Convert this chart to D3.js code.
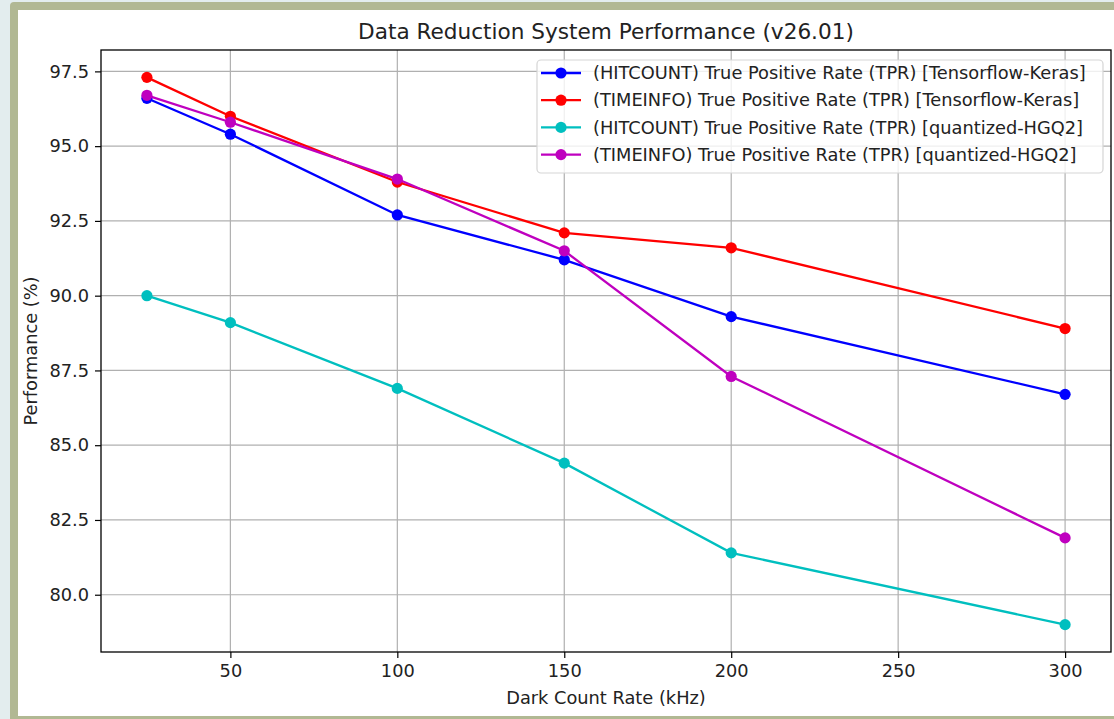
<!DOCTYPE html>
<html>
<head>
<meta charset="utf-8">
<script src="https://cdn.jsdelivr.net/npm/d3@7"></script>
<style>
  html, body { margin: 0; padding: 0; background: #e3edee; }
  svg { display: block; font-family: "DejaVu Sans", sans-serif; }
</style>
</head>
<body>
<svg id="chart" width="1114" height="719"></svg>
<script>
// Dark count rates (kHz) on the x axis
const rates = [25, 50, 100, 150, 200, 300];

// True positive rate (%) per configuration
const hitcountKeras = [96.6, 95.4, 92.7, 91.2, 89.3, 86.7];
const timeinfoKeras = [97.3, 96.0, 93.8, 92.1, 91.6, 88.9];
const hitcountHGQ2  = [90.0, 89.1, 86.9, 84.4, 81.4, 79.0];
const timeinfoHGQ2  = [96.7, 95.8, 93.9, 91.5, 87.3, 81.9];

const seriesNames = [
  "(HITCOUNT) True Positive Rate (TPR) [Tensorflow-Keras]",
  "(TIMEINFO) True Positive Rate (TPR) [Tensorflow-Keras]",
  "(HITCOUNT) True Positive Rate (TPR) [quantized-HGQ2]",
  "(TIMEINFO) True Positive Rate (TPR) [quantized-HGQ2]"
];
const seriesColors = ["#0000ff", "#ff0000", "#00bfbf", "#bf00bf"];
const seriesValues = [hitcountKeras, timeinfoKeras, hitcountHGQ2, timeinfoHGQ2];

const xTicks = [50, 100, 150, 200, 250, 300];
const yTicks = [80.0, 82.5, 85.0, 87.5, 90.0, 92.5, 95.0, 97.5];

const svg = d3.select("#chart");

// Framed card behind the figure
svg.append("rect").attr("x", 10).attr("y", 2).attr("width", 1114).attr("height", 720)
  .attr("rx", 4).attr("fill", "#b1b893");
svg.append("rect").attr("x", 18).attr("y", 10).attr("width", 1100).attr("height", 706)
  .attr("fill", "#ffffff");

const plot = { left: 101, top: 50, right: 1111, bottom: 652 };

const x = d3.scaleLinear().domain([11.25, 313.75]).range([plot.left, plot.right]);
const y = d3.scaleLinear().domain([78.085, 98.215]).range([plot.bottom, plot.top]);

const fs = 17.8;

// Grid
const grid = svg.append("g");
grid.selectAll("line.gx").data(xTicks).join("line")
  .attr("x1", d => x(d)).attr("x2", d => x(d))
  .attr("y1", plot.top).attr("y2", plot.bottom)
  .attr("stroke", "#b0b0b0").attr("stroke-width", 1.2);
grid.selectAll("line.gy").data(yTicks).join("line")
  .attr("x1", plot.left).attr("x2", plot.right)
  .attr("y1", d => y(d)).attr("y2", d => y(d))
  .attr("stroke", "#b0b0b0").attr("stroke-width", 1.2);

// Axes
const xAxis = d3.axisBottom(x).tickValues(xTicks).tickSize(6).tickPadding(6).tickFormat(d3.format("d"));
const yAxis = d3.axisLeft(y).tickValues(yTicks).tickSize(6).tickPadding(6).tickFormat(d3.format(".1f"));

const gx = svg.append("g").attr("transform", `translate(0,${plot.bottom})`).call(xAxis);
const gy = svg.append("g").attr("transform", `translate(${plot.left},0)`).call(yAxis);
[gx, gy].forEach(g => {
  g.select(".domain").remove();
  g.selectAll("line").attr("stroke", "#000").attr("stroke-width", 1.2);
  g.selectAll("text").attr("fill", "#222").style("font-size", fs + "px")
    .style("font-family", "'DejaVu Sans', sans-serif");
});

// Series lines and markers
seriesValues.forEach((vals, i) => {
  const pts = rates.map((r, j) => [r, vals[j]]);
  svg.append("path").datum(pts)
    .attr("fill", "none").attr("stroke", seriesColors[i]).attr("stroke-width", 2.3)
    .attr("d", d3.line().x(d => x(d[0])).y(d => y(d[1])));
  svg.append("g").selectAll("circle").data(pts).join("circle")
    .attr("cx", d => x(d[0])).attr("cy", d => y(d[1])).attr("r", 5.6)
    .attr("fill", seriesColors[i]);
});

// Plot frame
svg.append("rect").attr("x", plot.left).attr("y", plot.top)
  .attr("width", plot.right - plot.left).attr("height", plot.bottom - plot.top)
  .attr("fill", "none").attr("stroke", "#000").attr("stroke-width", 1.3);

// Title and axis labels
svg.append("text").attr("x", (plot.left + plot.right) / 2).attr("y", 39)
  .attr("text-anchor", "middle").attr("fill", "#222").style("font-size", "21.6px")
  .text("Data Reduction System Performance (v26.01)");
svg.append("text").attr("x", (plot.left + plot.right) / 2).attr("y", 704)
  .attr("text-anchor", "middle").attr("fill", "#222").style("font-size", fs + "px")
  .text("Dark Count Rate (kHz)");
svg.append("text")
  .attr("transform", `translate(37,${(plot.top + plot.bottom) / 2}) rotate(-90)`)
  .attr("text-anchor", "middle").attr("fill", "#222").style("font-size", fs + "px")
  .text("Performance (%)");

// Legend
const legend = svg.append("g");
legend.append("rect").attr("x", 537).attr("y", 60).attr("width", 566).attr("height", 113)
  .attr("rx", 4).attr("fill", "rgba(255,255,255,0.8)").attr("stroke", "#d5d5d5").attr("stroke-width", 1.2);
seriesNames.forEach((name, i) => {
  const cy = 73 + i * 27.2;
  legend.append("line").attr("x1", 541).attr("x2", 581).attr("y1", cy).attr("y2", cy)
    .attr("stroke", seriesColors[i]).attr("stroke-width", 2.3);
  legend.append("circle").attr("cx", 561).attr("cy", cy).attr("r", 5.6).attr("fill", seriesColors[i]);
  legend.append("text").attr("x", 593).attr("y", cy).attr("dy", "0.35em")
    .attr("fill", "#222").style("font-size", fs + "px").text(name);
});
</script>
</body>
</html>
